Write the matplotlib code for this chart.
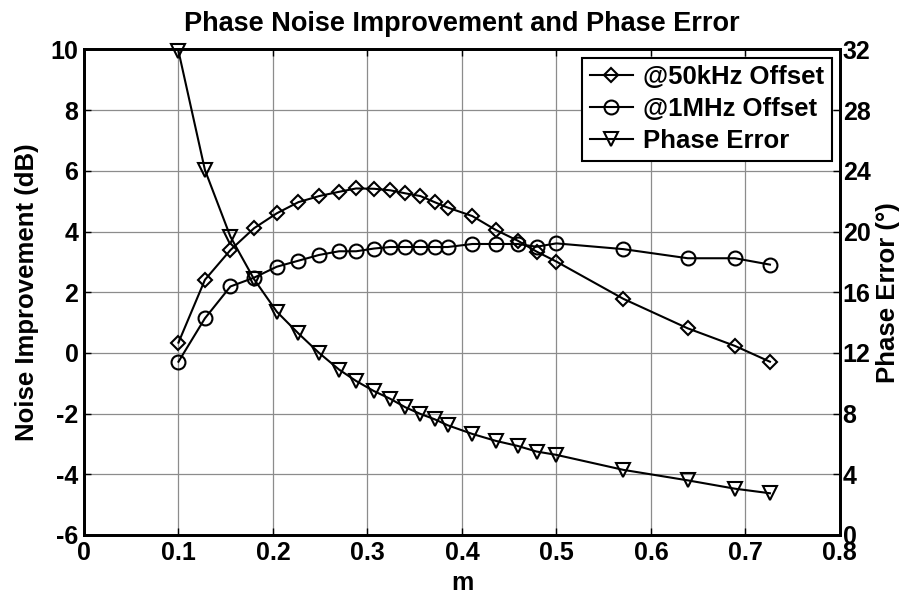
import matplotlib
matplotlib.use('Agg')
from matplotlib import pyplot as plt
from matplotlib.lines import Line2D

plt.rcParams['font.family'] = ['Liberation Sans', 'DejaVu Sans']
plt.rcParams['font.weight'] = 'bold'

# modulation index m
m = [0.100, 0.128, 0.155, 0.180, 0.204, 0.227, 0.249, 0.270, 0.288, 0.307,
     0.324, 0.340, 0.356, 0.371, 0.385, 0.411, 0.436, 0.459, 0.479, 0.500,
     0.571, 0.639, 0.689, 0.726]

# noise improvement (dB)
noise_50k = [0.34, 2.41, 3.39, 4.11, 4.60, 4.97, 5.17, 5.31, 5.42, 5.41,
             5.36, 5.26, 5.17, 4.97, 4.79, 4.51, 4.05, 3.70, 3.34, 3.01,
             1.78, 0.81, 0.23, -0.29]
noise_1m = [-0.29, 1.14, 2.19, 2.48, 2.84, 3.04, 3.23, 3.35, 3.35, 3.44,
            3.49, 3.49, 3.49, 3.49, 3.49, 3.59, 3.59, 3.59, 3.50, 3.61,
            3.42, 3.12, 3.12, 2.91]

# phase error (deg)
phase_err = [31.9, 24.06, 19.66, 16.86, 14.72, 13.28, 11.99, 10.90, 10.15, 9.48,
             8.98, 8.42, 7.98, 7.63, 7.23, 6.66, 6.20, 5.87, 5.50, 5.28,
             4.29, 3.60, 3.05, 2.75]

x_ticks = [0, 0.1, 0.2, 0.3, 0.4, 0.5, 0.6, 0.7, 0.8]
x_labels = ['0', '0.1', '0.2', '0.3', '0.4', '0.5', '0.6', '0.7', '0.8']
left_ticks = [-6, -4, -2, 0, 2, 4, 6, 8, 10]
right_ticks = [0, 4, 8, 12, 16, 20, 24, 28, 32]

fs = 18
lw = 1.5

fig = plt.figure(figsize=(9.06, 5.97), dpi=100)
ax = fig.add_axes([0.0927, 0.1039, 0.8343, 0.8132])
ax2 = ax.twinx()

style = dict(color='black', linewidth=lw, markerfacecolor='none',
             markeredgecolor='black', markeredgewidth=1.5)
ax.plot(m, noise_50k, marker='D', markersize=7.5, **style)
ax.plot(m, noise_1m, marker='o', markersize=10, **style)
ax2.plot(m, phase_err, marker='v', markersize=10.5, clip_on=False, **style)

ax.set_xlim(0, 0.8)
ax.set_ylim(-6, 10)
ax2.set_ylim(0, 32)
ax.set_xticks(x_ticks)
ax.set_xticklabels(x_labels)
ax.set_yticks(left_ticks)
ax.set_yticklabels([str(v) for v in left_ticks])
ax2.set_yticks(right_ticks)
ax2.set_yticklabels([str(v) for v in right_ticks])

ax.grid(True, color='#8c8c8c', linewidth=0.9)
ax.set_axisbelow(True)
ax.tick_params(axis='x', direction='in', top=True, length=5, width=1,
               labelsize=fs, pad=4)
ax.tick_params(axis='y', direction='in', length=5, width=1, labelsize=fs, pad=4)
ax2.tick_params(axis='y', direction='in', length=5, width=1, labelsize=fs, pad=2)
for a in (ax, ax2):
    for sp in a.spines.values():
        sp.set_linewidth(2)

ax.set_xlabel('m', fontsize=fs, fontweight='bold', labelpad=5)
ax.set_ylabel('Noise Improvement (dB)', fontsize=fs + 0.5, fontweight='bold',
              labelpad=8)
ax2.set_ylabel('Phase Error (°)', fontsize=fs + 0.5, fontweight='bold', labelpad=4)
ax.set_title('Phase Noise Improvement and Phase Error', fontsize=19.5,
             fontweight='bold', pad=13)

handles = [
    Line2D([], [], marker='D', markersize=7.5, **style),
    Line2D([], [], marker='o', markersize=10, **style),
    Line2D([], [], marker='v', markersize=10.5, **style),
]
labels = ['@50kHz Offset', '@1MHz Offset', 'Phase Error']
leg = ax2.legend(handles, labels, loc='upper right', fontsize=18.5,
                 fancybox=False, framealpha=1, edgecolor='black',
                 handlelength=1.65, handletextpad=0.4, borderpad=0.3,
                 labelspacing=0.3, borderaxespad=0.32)
leg.get_frame().set_linewidth(1.5)
for t in leg.get_texts():
    t.set_fontweight('bold')

fig.savefig('out.png', dpi=100)
